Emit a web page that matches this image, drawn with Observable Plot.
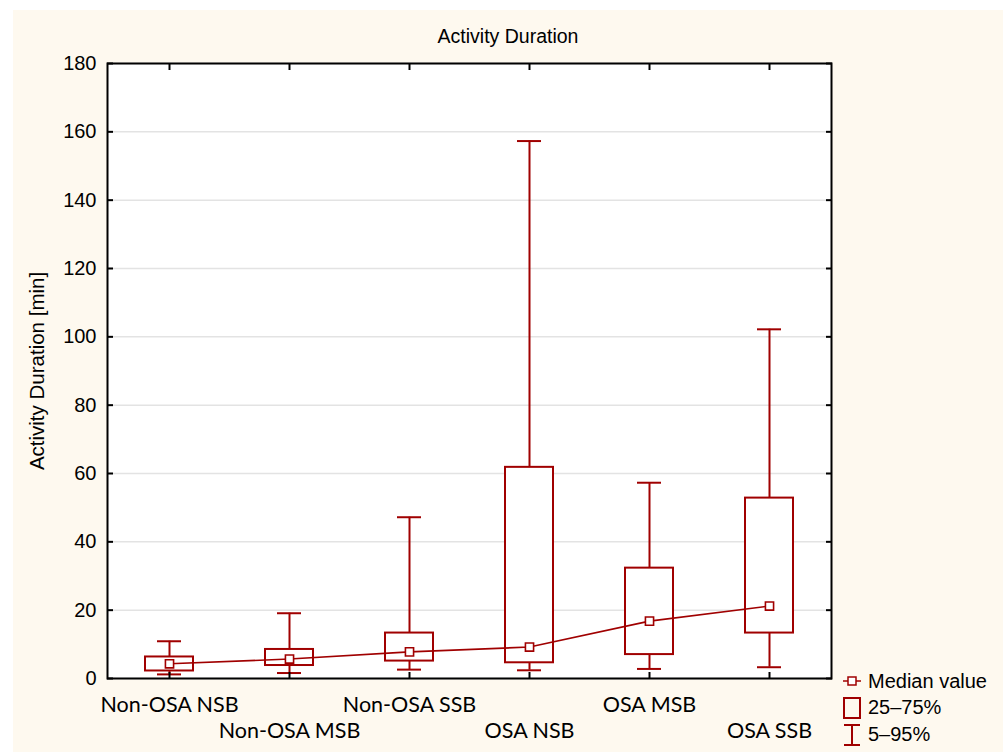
<!DOCTYPE html>
<html>
<head>
<meta charset="utf-8">
<script src="https://cdn.jsdelivr.net/npm/d3@7"></script>
<script src="https://cdn.jsdelivr.net/npm/@observablehq/plot@0.6"></script>
<style>
  body { margin: 0; background: #ffffff; }
  #wrap { position: relative; width: 1003px; height: 752px; overflow: hidden; }
  #cream { position: absolute; left: 13px; top: 10px; right: 0; bottom: 0; background: #fef9ef; }
  #chart { position: absolute; left: 0; top: 0; }
  #title { position: absolute; left: 308px; width: 400px; top: 25px; text-align: center;
           font-family: "Liberation Sans", Arial, sans-serif; font-size: 19.5px; line-height: 23px; color: #000; }
  .leg { position: absolute; left: 843px; font-family: "Liberation Sans", Arial, sans-serif; font-size: 20px; line-height: 23px; color: #000; display: flex; align-items: center; }
  .leg svg { margin-right: 7px; }
</style>
</head>
<body>
<div id="wrap">
  <div id="cream"></div>
  <div id="chart"></div>
  <div id="title">Activity Duration</div>
  <div class="leg" style="top:669px">
    <svg width="18" height="24"><line x1="0" y1="12" x2="18" y2="12" stroke="#a00000" stroke-width="1.5"/><rect x="5" y="8" width="8" height="8" fill="white" stroke="#a00000" stroke-width="1.5"/></svg>
    <span>Median value</span>
  </div>
  <div class="leg" style="top:696px">
    <svg width="18" height="22"><rect x="1" y="1" width="16" height="20" fill="none" stroke="#a00000" stroke-width="2"/></svg>
    <span>25–75%</span>
  </div>
  <div class="leg" style="top:723px">
    <svg width="18" height="22"><line x1="9" y1="1" x2="9" y2="21" stroke="#a00000" stroke-width="2"/><line x1="1" y1="1" x2="17" y2="1" stroke="#a00000" stroke-width="2"/><line x1="1" y1="21" x2="17" y2="21" stroke="#a00000" stroke-width="2"/></svg>
    <span>5–95%</span>
  </div>
</div>
<script>
const categories = ["Non-OSA NSB", "Non-OSA MSB", "Non-OSA SSB", "OSA NSB", "OSA MSB", "OSA SSB"];
const p05    = [1.2, 1.6, 2.6, 2.4, 2.8, 3.3];
const q1     = [2.2, 3.8, 5.1, 4.6, 7.0, 13.3];
const median = [4.3, 5.7, 7.8, 9.2, 16.8, 21.2];
const q3     = [6.3, 8.5, 13.3, 61.8, 32.3, 52.8];
const p95    = [10.9, 19.1, 47.2, 157.3, 57.3, 102.2];
const yTicks = [0, 20, 40, 60, 80, 100, 120, 140, 160, 180];
const yLabel = "Activity Duration [min]";

const rows = categories.map((cat, i) => ({cat, p05: p05[i], q1: q1[i], median: median[i], q3: q3[i], p95: p95[i]}));
const red = "#a00000";
const catFont = "Lato, sans-serif";

const chart = Plot.plot({
  width: 1003,
  height: 752,
  marginLeft: 107,
  marginRight: 172,
  marginTop: 63,
  marginBottom: 74,
  style: {background: "transparent", fontFamily: "'Liberation Sans', Arial, sans-serif", fontSize: "20px", color: "#000", overflow: "visible"},
  x: {type: "band", domain: categories, padding: 0, axis: null},
  y: {domain: [0, 180], axis: null},
  marks: [
    Plot.frame({fill: "white"}),
    Plot.gridY(yTicks, {stroke: "#e3e3e3", strokeOpacity: 1, strokeWidth: 1.5}),
    Plot.ruleX(rows, {x: "cat", y1: "p05", y2: "p95", stroke: red, strokeWidth: 2}),
    Plot.tickY(rows, {x: "cat", y: "p95", stroke: red, strokeWidth: 2, insetLeft: 48, insetRight: 48}),
    Plot.tickY(rows, {x: "cat", y: "p05", stroke: red, strokeWidth: 2, insetLeft: 48, insetRight: 48}),
    Plot.barY(rows, {x: "cat", y1: "q1", y2: "q3", fill: "white", stroke: red, strokeWidth: 2, insetLeft: 36, insetRight: 36}),
    Plot.line(rows, {x: "cat", y: "median", stroke: red, strokeWidth: 1.6}),
    Plot.dot(rows, {x: "cat", y: "median", symbol: "square", r: 4.6, fill: "white", stroke: red, strokeWidth: 1.6}),
    Plot.axisY(yTicks, {anchor: "left", tickSize: -6, tickFormat: () => "", label: null, strokeWidth: 2}),
    Plot.axisY(yTicks, {anchor: "left", tickSize: 0, tickPadding: 11, label: null, fontSize: 20}),
    Plot.axisY(yTicks, {anchor: "right", tickSize: -6, tickFormat: () => "", label: null, strokeWidth: 2}),
    Plot.axisX(categories, {anchor: "top", tickSize: -6, tickFormat: () => "", label: null, strokeWidth: 2}),
    Plot.axisX(categories, {anchor: "bottom", tickSize: -6, tickFormat: () => "", label: null, strokeWidth: 2}),
    Plot.axisX(categories.filter((d, i) => i % 2 === 0), {anchor: "bottom", tickSize: 0, tickPadding: 18, label: null, fontFamily: catFont, fontSize: 21.5}),
    Plot.axisX(categories.filter((d, i) => i % 2 === 1), {anchor: "bottom", tickSize: 0, tickPadding: 44, label: null, fontFamily: catFont, fontSize: 21.5}),
    Plot.frame({stroke: "#000", strokeWidth: 2}),
    Plot.text([yLabel], {frameAnchor: "left", textAnchor: "middle", rotate: -90, dx: -70, fontSize: 20.5})
  ]
});
document.getElementById("chart").appendChild(chart);
</script>
</body>
</html>
